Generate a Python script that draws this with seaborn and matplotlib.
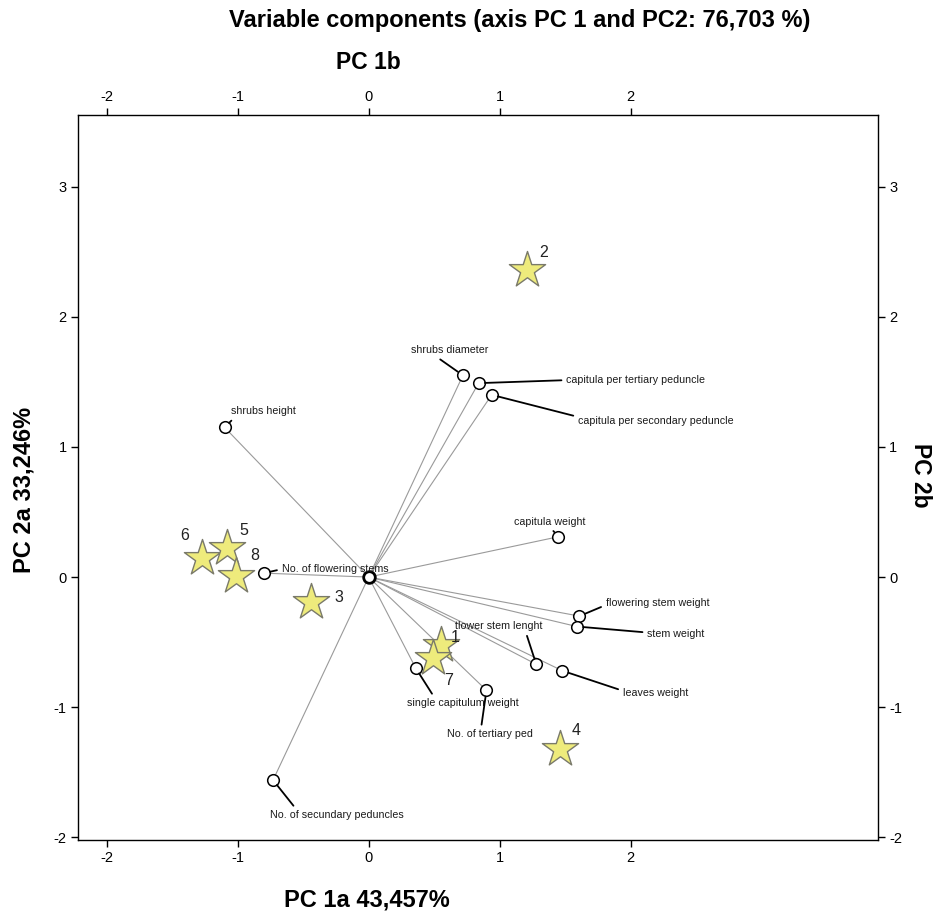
import numpy as np
import pandas as pd
import matplotlib
matplotlib.use('Agg')
import matplotlib.pyplot as plt
import seaborn as sns

# variable loadings (circles)
var_names = ['shrubs diameter', 'capitula per tertiary peduncle', 'capitula per secondary peduncle',
             'shrubs height', 'capitula weight', 'No. of flowering stems',
             'flowering stem weight', 'stem weight', 'tlower stem lenght', 'leaves weight',
             'single capitulum weight', 'No. of tertiary ped', 'No. of secundary peduncles']
var_pc1 = [0.72, 0.84, 0.94, -1.10, 1.45, -0.80, 1.61, 1.59, 1.28, 1.48, 0.36, 0.90, -0.73]
var_pc2 = [1.55, 1.49, 1.40, 1.15, 0.31, 0.03, -0.30, -0.38, -0.67, -0.72, -0.70, -0.87, -1.56]

# observations (stars)
obs_ids = ['2', '6', '5', '8', '3', '1', '7', '4']
obs_pc1 = [1.21, -1.27, -1.08, -1.01, -0.44, 0.55, 0.49, 1.46]
obs_pc2 = [2.36, 0.15, 0.22, 0.01, -0.19, -0.52, -0.62, -1.32]

# label placement: offset in pixels from the circle, arrow attach point on text
var_offsets = [(-13, 25, (0.3, 0.0)), (157, 3, (0.0, 0.5)), (164, -26, (0.0, 0.9)),
               (39, 16, (0.1, 0.2)), (-9, 15, (0.5, 0.0)), (71, 4, (0.0, 0.5)),
               (78, 13, (0.0, 0.3)), (99, -7, (0.0, 0.6)), (-37, 38, (0.8, 0.0)),
               (93, -22, (0.0, 0.7)), (47, -35, (0.25, 1.0)), (3, -44, (0.4, 1.0)),
               (64, -35, (0.2, 1.0))]
obs_offsets = [(17, 17), (-18, 22), (17, 18), (18, 20), (28, 4), (15, 7), (16, -23), (16, 18)]

sns.set_theme(style='ticks')
plt.rcParams['font.family'] = ['Liberation Sans', 'DejaVu Sans']
plt.rcParams['axes.unicode_minus'] = False
plt.rcParams['text.color'] = 'black'

variables = pd.DataFrame({'name': var_names, 'pc1': var_pc1, 'pc2': var_pc2})
observations = pd.DataFrame({'id': obs_ids, 'pc1': obs_pc1, 'pc2': obs_pc2})

fig = plt.figure(figsize=(9.37, 9.13), dpi=100)
ax = fig.add_axes([0.0832, 0.080, 0.8538, 0.794])

# lines from origin to each variable
for _, row in variables.iterrows():
    ax.plot([0, row['pc1']], [0, row['pc2']], color='#9a9a9a', lw=0.8, zorder=1)

sns.scatterplot(data=variables, x='pc1', y='pc2', ax=ax, marker='o', s=70,
                facecolor='white', edgecolor='black', linewidth=1.1, zorder=3)
ax.scatter([0], [0], s=70, facecolor='white', edgecolor='black', linewidth=2.0, zorder=3)

sns.scatterplot(data=observations, x='pc1', y='pc2', ax=ax, marker='*', s=750,
                color='#eeeb7c', edgecolor='#7a7a6a', linewidth=1.0, zorder=4)

for (_, row), (dx, dy, rp) in zip(variables.iterrows(), var_offsets):
    ax.annotate(row['name'], xy=(row['pc1'], row['pc2']), xytext=(dx, dy),
                textcoords='offset pixels', ha='center', va='center', fontsize=7.7,
                color='#1a1a1a', zorder=5,
                arrowprops=dict(arrowstyle='-', color='black', lw=1.3,
                                shrinkA=1, shrinkB=4.5, relpos=rp))

for (_, row), (dx, dy) in zip(observations.iterrows(), obs_offsets):
    ax.annotate(row['id'], xy=(row['pc1'], row['pc2']), xytext=(dx, dy),
                textcoords='offset pixels', ha='center', va='center', fontsize=11.5,
                color='#222222', zorder=5)

ax.set_xlim(-2.22, 3.89)
ax.set_ylim(-2.02, 3.55)
ax.set_xticks([-2, -1, 0, 1, 2])
ax.set_yticks([-2, -1, 0, 1, 2, 3])
ax.tick_params(axis='both', which='both', direction='out', length=5, width=1,
               top=True, labeltop=True, right=True, labelright=True,
               labelsize=10.5, colors='black', pad=3)
ax.set_xlabel('')
ax.set_ylabel('')
for sp in ax.spines.values():
    sp.set_visible(True)
    sp.set_linewidth(1.0)
    sp.set_color('black')

fig.text(0.555, 0.977, 'Variable components (axis PC 1 and PC2: 76,703 %)',
         ha='center', va='center', fontsize=17, fontweight='bold')
fig.text(0.393, 0.932, 'PC 1b', ha='center', va='center', fontsize=16.5, fontweight='bold')
fig.text(0.392, 0.014, 'PC 1a 43,457%', ha='center', va='center', fontsize=17, fontweight='bold')
fig.text(0.026, 0.463, 'PC 2a 33,246%', ha='center', va='center', fontsize=17,
         fontweight='bold', rotation=90)
fig.text(0.982, 0.479, 'PC 2b', ha='center', va='center', fontsize=16.5,
         fontweight='bold', rotation=270)

fig.savefig('out.png', dpi=100)
